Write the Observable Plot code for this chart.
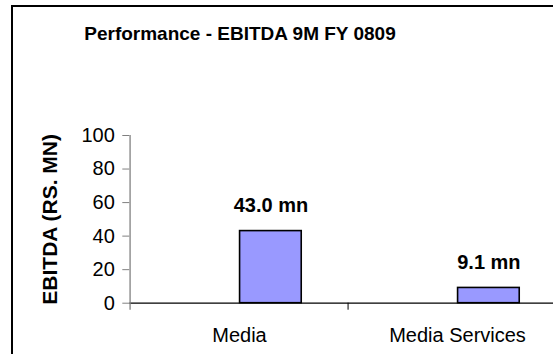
<!DOCTYPE html>
<html>
<head>
<meta charset="utf-8">
<script src="https://cdn.jsdelivr.net/npm/d3@7"></script>
<script src="https://cdn.jsdelivr.net/npm/@observablehq/plot@0.6"></script>
<style>
  body { margin: 0; background: #fff; font-family: "Liberation Sans", Arial, sans-serif; }
  #wrap { position: relative; width: 553px; height: 354px; overflow: hidden; background: #fff; }
  #frame { position: absolute; left: 11px; top: 5px; width: 700px; height: 500px; border: 2px solid #000; box-sizing: border-box; pointer-events: none; }
  #title { position: relative; height: 60px; }
  #title span { position: absolute; left: 240px; top: 24px; transform: translateX(-50%); font-weight: bold; font-size: 19px; line-height: 19px; letter-spacing: 0px; white-space: nowrap; color: #000; }
  #chart svg { display: block; }
</style>
</head>
<body>
<div id="wrap">
  <div id="title"><span>Performance - EBITDA 9M FY 0809</span></div>
  <div id="chart"></div>
  <div id="frame"></div>
</div>
<script>
const categories = ["Media", "Media Services"];
const ebitda = [43.0, 9.1];
const valueLabels = ["43.0 mn", "9.1 mn"];
const yTicks = [0, 20, 40, 60, 80, 100];
const yLabel = "EBITDA (RS. MN)";

const data = categories.map((c, i) => ({category: c, value: ebitda[i], label: valueLabels[i]}));

const W = 553, H = 294;
const mL = 129.3, mR = -14, mT = 75, mB = 51.3;
const bw = (W - mR - mL) / categories.length;
const barW = 62.5;
const barOffset = 31.4;
const insetL = bw / 2 + barOffset - barW / 2;
const insetR = bw - insetL - barW;

const chart = Plot.plot({
  width: W,
  height: H,
  marginLeft: mL,
  marginRight: mR,
  marginTop: mT,
  marginBottom: mB,
  style: {fontFamily: "'Liberation Sans', Arial, sans-serif", color: "#000", background: "transparent", overflow: "visible"},
  x: {domain: categories, padding: 0},
  y: {domain: [0, 100]},
  marks: [
    Plot.barY(data, {x: "category", y: "value", fill: "#9999FF", stroke: "#000", strokeWidth: 1.6, insetLeft: insetL, insetRight: insetR}),
    Plot.ruleY([0], {stroke: "#000", strokeWidth: 1.3}),
    Plot.ruleX([categories[0]], {x: d => d, y1: 0, y2: 100, insetTop: 7, dx: -bw / 2, stroke: "#808080", strokeWidth: 1.3}),
    Plot.ruleX(categories.slice(1), {x: d => d, y1: 0, y2: 0, insetTop: 7, dx: -bw / 2, stroke: "#000", strokeWidth: 1}),
    Plot.axisY(yTicks, {tickSize: 7, tickPadding: 8, fontSize: 20, stroke: "#808080", label: null}),
    Plot.axisX({tickSize: 0, tickPadding: 25, fontSize: 20, label: null}),
    Plot.text(data, {x: "category", y: "value", text: "label", dx: barOffset, dy: -19, lineAnchor: "bottom", fontSize: 20, fontWeight: "bold"}),
    Plot.text([yLabel], {text: d => d, frameAnchor: "left", textAnchor: "middle", rotate: -90, dx: -79.3, dy: 0, fontSize: 21, fontWeight: "bold"})
  ]
});
document.getElementById("chart").appendChild(chart);
</script>
</body>
</html>
